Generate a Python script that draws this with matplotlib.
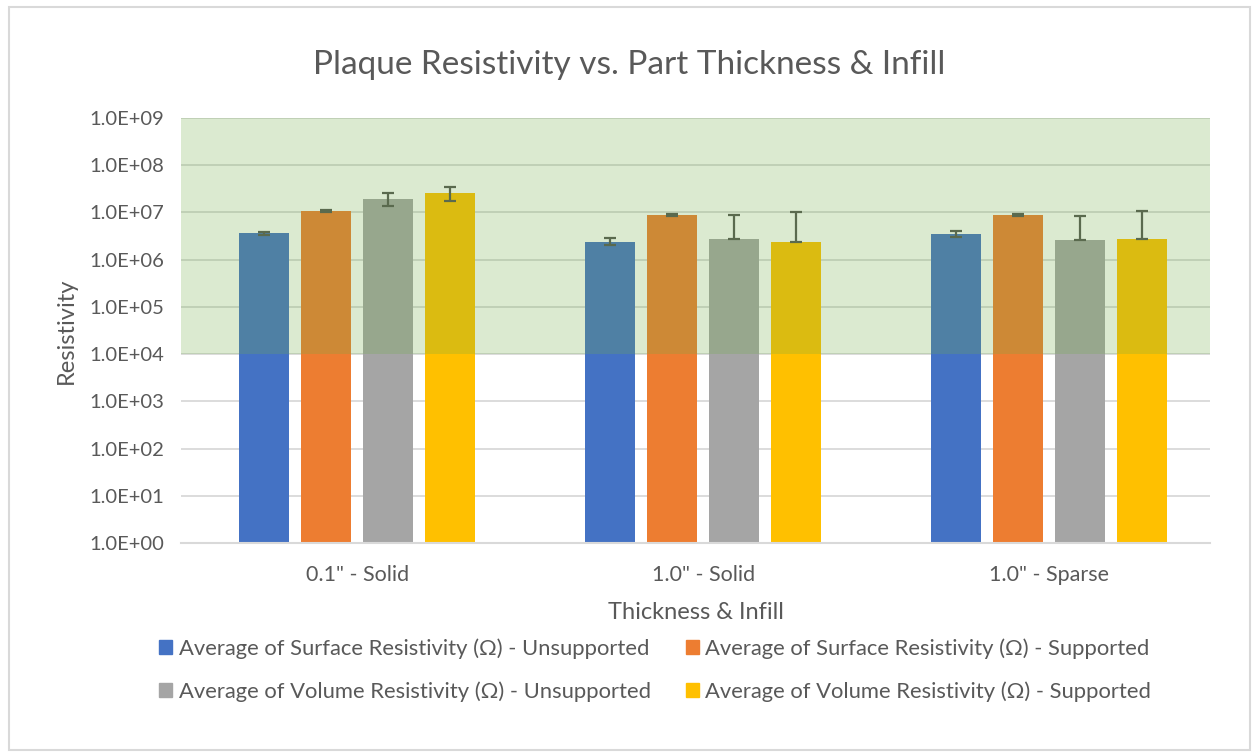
import numpy as np
import matplotlib.pyplot as plt
from matplotlib.patches import Patch, Rectangle

plt.rcParams['font.family'] = ['Lato', 'DejaVu Sans']

# --- data ---
groups = ['0.1" - Solid', '1.0" - Solid', '1.0" - Sparse']
series = [
    'Average of Surface Resistivity (Ω) - Unsupported',
    'Average of Surface Resistivity (Ω) - Supported',
    'Average of Volume Resistivity (Ω) - Unsupported',
    'Average of Volume Resistivity (Ω) - Supported',
]
surf_unsup = [3.6e6, 2.42e6, 3.52e6]
surf_sup = [1.08e7, 9.0e6, 9.0e6]
vol_unsup = [1.97e7, 2.75e6, 2.57e6]
vol_sup = [2.56e7, 2.42e6, 2.75e6]

# [minus, plus] error amounts
surf_unsup_err = [[0.3e6, 0.4e6, 0.45e6], [0.3e6, 0.4e6, 0.5e6]]
surf_sup_err = [[0.5e6, 0.4e6, 0.4e6], [0.5e6, 0.4e6, 0.4e6]]
vol_unsup_err = [[0.6e7, 0, 0], [0.65e7, 5.9e6, 6.0e6]]
vol_sup_err = [[0.8e7, 0, 0], [0.85e7, 7.9e6, 8.2e6]]

colors = ['#4472C4', '#ED7D31', '#A5A5A5', '#FFC000']
text_col = '#595959'

values = [surf_unsup, surf_sup, vol_unsup, vol_sup]
errors = [surf_unsup_err, surf_sup_err, vol_unsup_err, vol_sup_err]

W, H = 1253, 755
fig = plt.figure(figsize=(W / 100, H / 100), dpi=100)
ax = fig.add_axes([181 / W, 1 - 543 / H, (1210 - 181) / W, (543 - 118) / H])

x = np.arange(len(groups))
width = 0.1445
step = 0.179
for i, (vals, err) in enumerate(zip(values, errors)):
    pos = x + (i - 1.5) * step
    ax.bar(pos, vals, width, bottom=1, color=colors[i], zorder=2, label=series[i])
    ax.errorbar(pos, vals, yerr=err, fmt='none', ecolor='#5A6A4E', elinewidth=1.6,
                capsize=4.5, capthick=1.6, zorder=4)

# acceptable range shading
ax.axhspan(1e4, 1e9, color='#70AD47', alpha=0.25, lw=0, zorder=3)

ax.set_yscale('log')
ax.set_ylim(1, 1e9)
ax.set_xlim(-0.509, 2.465)
ax.set_yticks([10.0 ** k for k in range(10)])
ax.set_yticklabels(['1.0E+%02d' % k for k in range(10)])
ax.minorticks_off()
ax.set_xticks(x)
ax.set_xticklabels(groups)
ax.tick_params(axis='y', length=0, labelsize=14.5, colors=text_col, pad=12)
ax.tick_params(axis='x', length=0, labelsize=15.5, colors=text_col, pad=16)
ax.yaxis.grid(True, color='#D9D9D9', lw=1.3, zorder=0)
ax.set_axisbelow(True)
for s in ['top', 'right', 'left']:
    ax.spines[s].set_visible(False)
ax.spines['bottom'].set_color('#D9D9D9')
ax.spines['bottom'].set_linewidth(1.5)

ax.set_ylabel('Resistivity', fontsize=17, color=text_col, labelpad=9)
ax.set_xlabel('Thickness & Infill', fontsize=17, color=text_col, labelpad=12)
fig.text(629 / W, 1 - 65 / H, 'Plaque Resistivity vs. Part Thickness & Infill',
         ha='center', va='center', fontsize=24, color=text_col)

handles = [Patch(color=c) for c in colors]
order = [0, 2, 1, 3]
fig.legend([handles[k] for k in order], [series[k] for k in order], ncol=2,
           loc='center', bbox_to_anchor=(655 / W, 1 - 670 / H), frameon=False,
           fontsize=15.8, labelcolor=text_col, handlelength=0.6, handleheight=0.6,
           handletextpad=0.3, columnspacing=1.6, labelspacing=1.0)

fig.patches.append(Rectangle((9 / W, 5 / H), 1241 / W, 743 / H,
                             transform=fig.transFigure, fill=False,
                             edgecolor='#D9D9D9', lw=1.5))

fig.savefig('out.png', dpi=100)
